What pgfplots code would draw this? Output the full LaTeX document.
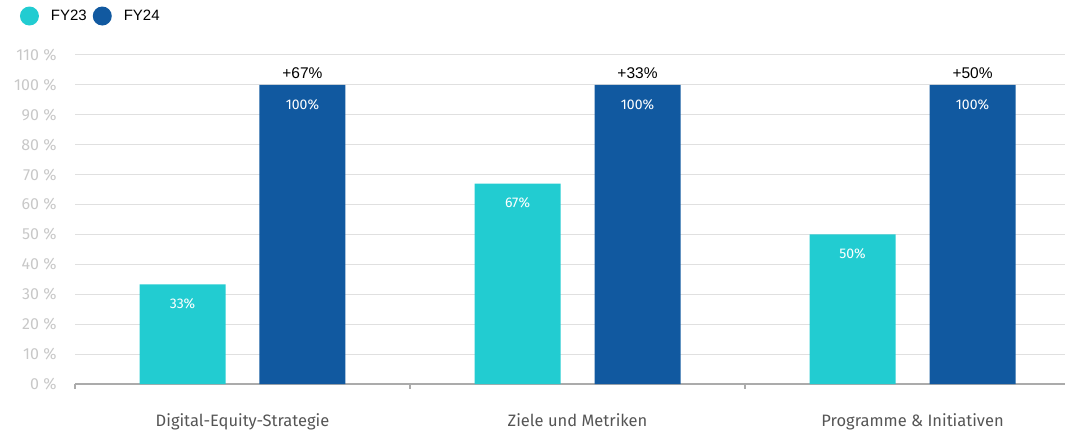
\documentclass[border=0pt]{standalone}
\usepackage{pgfplots}
\pgfplotsset{compat=1.18}
\usepackage{fontspec}
\setmainfont{Fira Sans}
\newfontfamily\arialf{Liberation Sans}
\definecolor{teal23}{HTML}{22CCD1}
\definecolor{blue24}{HTML}{1159A0}
\definecolor{tickgray}{HTML}{C8C8C8}
\definecolor{gridgray}{HTML}{E0E0E0}
\definecolor{axisgray}{HTML}{ABABAB}
\definecolor{labgray}{HTML}{555555}
\begin{document}
\begin{tikzpicture}
\path[use as bounding box] (0,0) rectangle (1067bp,432bp);
\begin{axis}[
  at={(75bp,48bp)}, anchor=south west,
  scale only axis, width=990bp, height=329bp,
  xmin=-0.5, xmax=2.455, ymin=0, ymax=110,
  ytick={0,10,...,110},
  ymajorgrids, grid style={gridgray, line width=1bp},
  axis x line*=bottom, axis y line*=left,
  y axis line style={draw=none},
  x axis line style={axisgray, line width=1.2bp, -},
  ytick style={draw=none},
  /pgf/number format/assume math mode=true,
  yticklabel={\pgfmathprintnumber{\tick}~\%},
  yticklabel style={font=\fontsize{16bp}{18bp}\selectfont, color=tickgray, xshift=-10bp},
  xtick={-0.5,0.5,1.5}, xticklabels={},
  tick align=outside, major tick length=5bp,
  xtick style={axisgray, line width=1.2bp},
  extra x ticks={0,1,2},
  extra x tick labels={Digital-Equity-Strategie, Ziele und Metriken, Programme \& Initiativen},
  extra x tick style={major tick length=0pt, tick label style={font=\fontsize{16.5bp}{18bp}\selectfont, color=labgray, yshift=-26bp}},
  legend style={at={(-0.0556,1.1185)}, anchor=west, draw=none, fill=none,
    inner sep=0pt, outer sep=0pt, font=\arialf\fontsize{15bp}{17bp}\selectfont,
    legend columns=-1,
    /tikz/every odd column/.append style={column sep=10bp},
    /tikz/every even column/.append style={column sep=4bp}},
  legend image code/.code={\fill[#1] (4bp,0bp) circle (9.5bp);},
  clip=false,
]
\addplot[ybar, bar width=0.2567, bar shift=-0.179, fill=teal23, draw=none]
  coordinates {(0,33.3) (1,67) (2,50)};
\addlegendentry{FY23}
\addplot[ybar, bar width=0.2567, bar shift=0.179, fill=blue24, draw=none]
  coordinates {(0,100) (1,100) (2,100)};
\addlegendentry{FY24}
% value labels inside the bars
\addplot[forget plot, draw=none, mark=none,
  point meta=explicit symbolic,
  nodes near coords={\pgfplotspointmeta\%},
  every node near coord/.append style={anchor=center, yshift=-19.5bp, text=white, font=\fontsize{14bp}{16bp}\selectfont}]
  coordinates {(-0.179,33.3) [33] (0.821,67) [67] (1.821,50) [50]
               (0.179,100) [100] (1.179,100) [100] (2.179,100) [100]};
% change labels above the FY24 bars
\addplot[forget plot, draw=none, mark=none,
  point meta=explicit symbolic,
  nodes near coords={+\pgfplotspointmeta\%},
  every node near coord/.append style={anchor=center, yshift=12bp, text=black, font=\arialf\fontsize{15.5bp}{17bp}\selectfont}]
  coordinates {(0.179,100) [67] (1.179,100) [33] (2.179,100) [50]};
\end{axis}
\end{tikzpicture}
\end{document}
